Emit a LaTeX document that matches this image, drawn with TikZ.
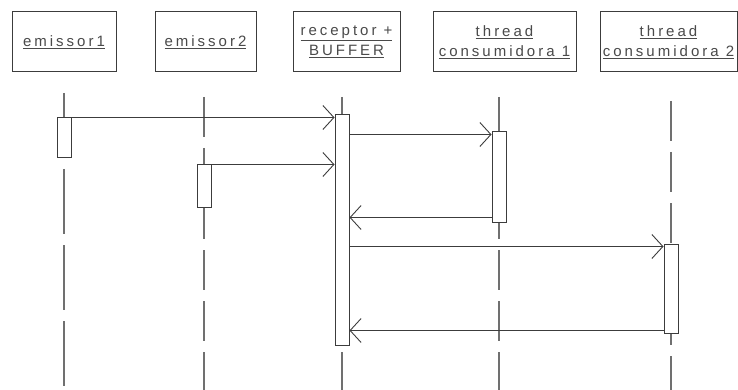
\documentclass[tikz,border=0pt]{standalone}
\usepackage{fontspec}
\setmainfont{Liberation Sans}
\usetikzlibrary{arrows.meta}
\definecolor{ink}{HTML}{3C3C3C}
\definecolor{txt}{HTML}{4A4A4A}
\definecolor{life}{HTML}{707070}
\tikzset{
  head/.style={draw=ink, line width=1pt, fill=white, minimum height=60pt, inner sep=0pt,
    text=txt, align=center, font=\fontsize{15}{22}\selectfont\addfontfeature{LetterSpace=20}},
  actbox/.style={draw=ink, line width=1pt, fill=white, minimum width=14pt, inner sep=0pt},
  lifeline/.style={draw=life, line width=1.3pt, dash pattern=on 40pt off 11pt},
  msg/.style={draw=ink, line width=1pt, -{Straight Barb[length=11pt,width=24pt,line width=0.9pt]}},
}
\begin{document}
\begin{tikzpicture}[x=1pt,y=-1pt]
\useasboundingbox (0,0) rectangle (738,390);
% heads
\node[head, minimum width=104pt] (e1) at (64,42) {\underline{emissor1}};
\node[head, minimum width=101pt] (e2) at (205.5,42) {\underline{emissor2}};
\node[head, minimum width=107pt] (rec) at (346.5,42) {\underline{receptor +}\\[-2pt]\underline{BUFFER}};
\node[head, minimum width=143pt] (c1) at (504.5,42) {\underline{thread}\\[-2pt]\underline{consumidora 1}};
\node[head, minimum width=137pt] (c2) at (668.5,42) {\underline{thread}\\[-2pt]\underline{consumidora 2}};
% lifeline ends
\coordinate (l1t) at (64,93);  \coordinate (l1b) at (64,390);
\coordinate (l2t) at (204,97); \coordinate (l2b) at (204,390);
\coordinate (l3t) at (342,97); \coordinate (l3b) at (342,390);
\coordinate (l4t) at (499,97); \coordinate (l4b) at (499,390);
\coordinate (l5t) at (671,101); \coordinate (l5b) at (671,390);
\draw[lifeline, dash pattern=on 25pt off 0pt on 40pt off 11pt] (l1t) -- (l1b);
\draw[lifeline] (l2t) -- (l2b);
\draw[lifeline] (l3t) -- (l3b);
\draw[lifeline] (l4t) -- (l4b);
\draw[lifeline] (l5t) -- (l5b);
% activations
\node[actbox, minimum height=40pt] (a1) at (64,138) {};
\node[actbox, minimum height=42pt] (a2) at (204,186) {};
\node[actbox, minimum height=230pt] (a3) at (342,230) {};
\node[actbox, minimum height=90pt] (a4) at (499,177) {};
\node[actbox, minimum height=89pt] (a5) at (671,288.5) {};
% message anchors
\coordinate (m1) at (a1.north east);
\coordinate (m2) at (a2.north east);
\coordinate (m3) at ([yshift=-3pt]a4.north west);
\coordinate (m4) at ([yshift=5pt]a4.south west);
\coordinate (m5) at ([yshift=-3pt]a5.north west);
\coordinate (m6) at ([yshift=3pt]a5.south west);
\draw[msg] (m1) -- (m1 -| a3.west);
\draw[msg] (m2) -- (m2 -| a3.west);
\draw[msg] (m3 -| a3.east) -- (m3);
\draw[msg] (m4) -- (m4 -| a3.east);
\draw[msg] (m5 -| a3.east) -- (m5);
\draw[msg] (m6) -- (m6 -| a3.east);
\end{tikzpicture}
\end{document}
